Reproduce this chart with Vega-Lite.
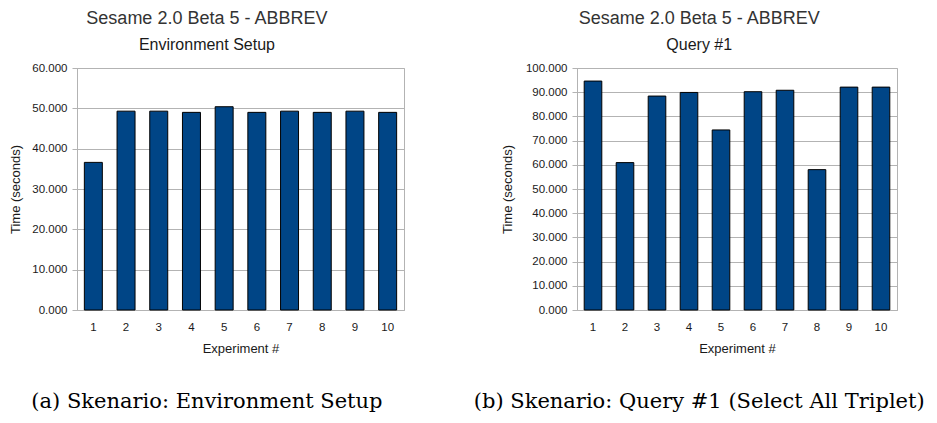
{
  "$schema": "https://vega.github.io/schema/vega-lite/v6.json",
  "padding": {"left": 9, "top": 9, "right": 2, "bottom": 2},
  "background": "white",
  "config": {
    "view": {"stroke": "#b3b3b3", "strokeWidth": 1},
    "font": "Liberation Sans",
    "axis": {
      "labelFont": "Liberation Sans", "labelFontSize": 11.5, "labelColor": "#1a1a1a",
      "titleFont": "Liberation Sans", "titleFontSize": 13, "titleFontWeight": "normal", "titleColor": "#1a1a1a",
      "domainColor": "#b3b3b3", "tickColor": "#b3b3b3", "gridColor": "#b3b3b3"
    },
    "title": {
      "font": "Liberation Sans", "fontSize": 18, "fontWeight": "normal", "color": "#333333",
      "subtitleFont": "Liberation Sans", "subtitleFontSize": 16, "subtitleColor": "#1a1a1a",
      "subtitlePadding": 9, "offset": 9
    }
  },
  "spacing": 68,
  "hconcat": [
    {
      "title": {"text": "(a) Skenario: Environment Setup", "orient": "bottom", "font": "DejaVu Serif", "fontSize": 21, "color": "#000000", "offset": 35, "anchor": "middle", "frame": "bounds"},
      "vconcat": [
        {
          "title": {"text": "Sesame 2.0 Beta 5 - ABBREV", "subtitle": "Environment Setup", "anchor": "middle", "frame": "bounds"},
          "width": 327,
          "height": 242,
          "data": {"values": [
            {"experiment": 1, "time": 36.6},
            {"experiment": 2, "time": 49.3},
            {"experiment": 3, "time": 49.3},
            {"experiment": 4, "time": 49.0},
            {"experiment": 5, "time": 50.4},
            {"experiment": 6, "time": 49.0},
            {"experiment": 7, "time": 49.3},
            {"experiment": 8, "time": 49.0},
            {"experiment": 9, "time": 49.3},
            {"experiment": 10, "time": 49.0}
          ]},
          "mark": {"type": "bar", "color": "#004586", "stroke": "#000000", "strokeWidth": 1},
          "encoding": {
            "x": {"field": "experiment", "type": "ordinal", "title": "Experiment #",
                  "scale": {"paddingInner": 0.45, "paddingOuter": 0.225},
                  "axis": {"labelAngle": 0, "ticks": false, "labelPadding": 11, "titlePadding": 10, "grid": false}},
            "y": {"field": "time", "type": "quantitative", "title": "Time (seconds)",
                  "scale": {"domain": [0, 60], "nice": false},
                  "axis": {"values": [0, 10, 20, 30, 40, 50, 60], "format": ".3f", "tickSize": 5, "labelPadding": 5, "titlePadding": 9, "grid": true}}
          }
        }
      ]
    },
    {
      "title": {"text": "(b) Skenario: Query #1 (Select All Triplet)", "orient": "bottom", "font": "DejaVu Serif", "fontSize": 21, "color": "#000000", "offset": 35, "anchor": "middle", "frame": "bounds"},
      "vconcat": [
        {
          "title": {"text": "Sesame 2.0 Beta 5 - ABBREV", "subtitle": "Query #1", "anchor": "middle", "frame": "bounds"},
          "width": 320,
          "height": 242,
          "data": {"values": [
            {"experiment": 1, "time": 94.6},
            {"experiment": 2, "time": 60.9},
            {"experiment": 3, "time": 88.4},
            {"experiment": 4, "time": 89.9},
            {"experiment": 5, "time": 74.4},
            {"experiment": 6, "time": 90.2},
            {"experiment": 7, "time": 90.8},
            {"experiment": 8, "time": 58.0},
            {"experiment": 9, "time": 92.1},
            {"experiment": 10, "time": 92.1}
          ]},
          "mark": {"type": "bar", "color": "#004586", "stroke": "#000000", "strokeWidth": 1},
          "encoding": {
            "x": {"field": "experiment", "type": "ordinal", "title": "Experiment #",
                  "scale": {"paddingInner": 0.45, "paddingOuter": 0.225},
                  "axis": {"labelAngle": 0, "ticks": false, "labelPadding": 11, "titlePadding": 10, "grid": false}},
            "y": {"field": "time", "type": "quantitative", "title": "Time (seconds)",
                  "scale": {"domain": [0, 100], "nice": false},
                  "axis": {"values": [0, 10, 20, 30, 40, 50, 60, 70, 80, 90, 100], "format": ".3f", "tickSize": 5, "labelPadding": 5, "titlePadding": 11, "grid": true}}
          }
        }
      ]
    }
  ]
}
